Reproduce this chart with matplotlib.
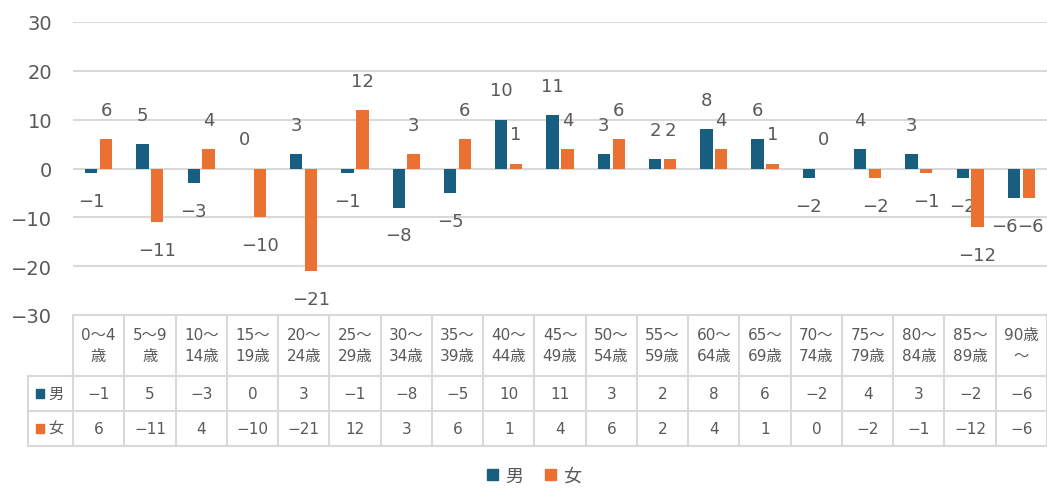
import matplotlib.pyplot as plt
from matplotlib.patches import Rectangle

plt.rcParams["font.family"] = ["DejaVu Sans", "Noto Sans CJK JP"]

categories = ["0～4\n歳", "5～9\n歳", "10～\n14歳", "15～\n19歳", "20～\n24歳", "25～\n29歳",
              "30～\n34歳", "35～\n39歳", "40～\n44歳", "45～\n49歳", "50～\n54歳", "55～\n59歳",
              "60～\n64歳", "65～\n69歳", "70～\n74歳", "75～\n79歳", "80～\n84歳", "85～\n89歳",
              "90歳\n～"]
male = [-1, 5, -3, 0, 3, -1, -8, -5, 10, 11, 3, 2, 8, 6, -2, 4, 3, -2, -6]
female = [6, -11, 4, -10, -21, 12, 3, 6, 1, 4, 6, 2, 4, 1, 0, -2, -1, -12, -6]
series = [("男", male, "#185E80"), ("女", female, "#EB7133")]
yticks = [30, 20, 10, 0, -10, -20, -30]

text_col = "#595959"
grid_col = "#D9D9D9"

W, H = 1047, 489
fig = plt.figure(figsize=(W / 100, H / 100), dpi=100)

x0, x1 = 73, 1047
ax = fig.add_axes([x0 / W, 1 - 316 / H, (x1 - x0) / W, (316 - 23) / H])
n = len(categories)
xs = list(range(n))

def fmt(v):
    return str(v).replace("-", "−")

offs = [-0.145, 0.145]
for k, ((name, vals, col), off) in enumerate(zip(series, offs)):
    other = series[1 - k][1]
    ax.bar([x + off for x in xs], vals, width=0.24, color=col, zorder=3)
    for x, v in zip(xs, vals):
        dy = 21 if v >= 0 else -20
        # push apart labels that would sit on top of each other
        dx = 0
        if v < 0 and other[x] < 0 and abs(v - other[x]) < 2:
            dx = -7 if k == 0 else 1
        ax.annotate(fmt(v), (x + off, v), xytext=(dx, dy), textcoords="offset points",
                    ha="center", va="center", fontsize=13, color=text_col)

ax.set_xlim(-0.5, n - 0.5)
ax.set_ylim(-30, 30)
ax.set_yticks(yticks)
ax.set_yticklabels([fmt(t) for t in yticks], fontsize=14, color=text_col)
ax.tick_params(axis="y", length=0, pad=15)
ax.set_xticks([])
ax.grid(axis="y", color=grid_col, lw=1.5, zorder=0)
for s in ax.spines.values():
    s.set_visible(False)

# data table
tb = fig.add_axes([x0 / W, 1 - 447 / H, (x1 - x0) / W, (447 - 316) / H])
tb.set_xlim(-0.5, n - 0.5)
tb.set_ylim(131, 0)
tb.axis("off")
lw = 1.5
tb.plot([-0.5, n - 0.5], [0, 0], color=grid_col, lw=lw, clip_on=False)
for y in [61, 96, 131]:
    tb.plot([-1.38, n - 0.5], [y, y], color=grid_col, lw=lw, clip_on=False)
for i in range(n + 1):
    tb.plot([i - 0.5, i - 0.5], [0, 131], color=grid_col, lw=lw, clip_on=False)
tb.plot([-1.38, -1.38], [61, 131], color=grid_col, lw=lw, clip_on=False)

for i, c in enumerate(categories):
    tb.text(i, 30, c, ha="center", va="center", fontsize=11, color=text_col,
            linespacing=1.5)
for (name, vals, col), yc in zip(series, [78.5, 113.5]):
    tb.add_patch(Rectangle((-1.22, yc - 4.5), 0.16, 9, color=col, clip_on=False))
    tb.text(-0.98, yc, name, ha="left", va="center", fontsize=11, color=text_col)
    for i, v in enumerate(vals):
        tb.text(i, yc, fmt(v), ha="center", va="center", fontsize=11, color=text_col)

handles = [Rectangle((0, 0), 1, 1, color=col) for _, _, col in series]
fig.legend(handles, [s[0] for s in series], loc="center", bbox_to_anchor=(534 / W, 1 - 477 / H),
           ncol=2, frameon=False, fontsize=13, handlelength=0.6, handleheight=0.6,
           handletextpad=0.4, columnspacing=1.2, labelcolor=text_col)

fig.savefig("out.png", dpi=100, facecolor="white")
